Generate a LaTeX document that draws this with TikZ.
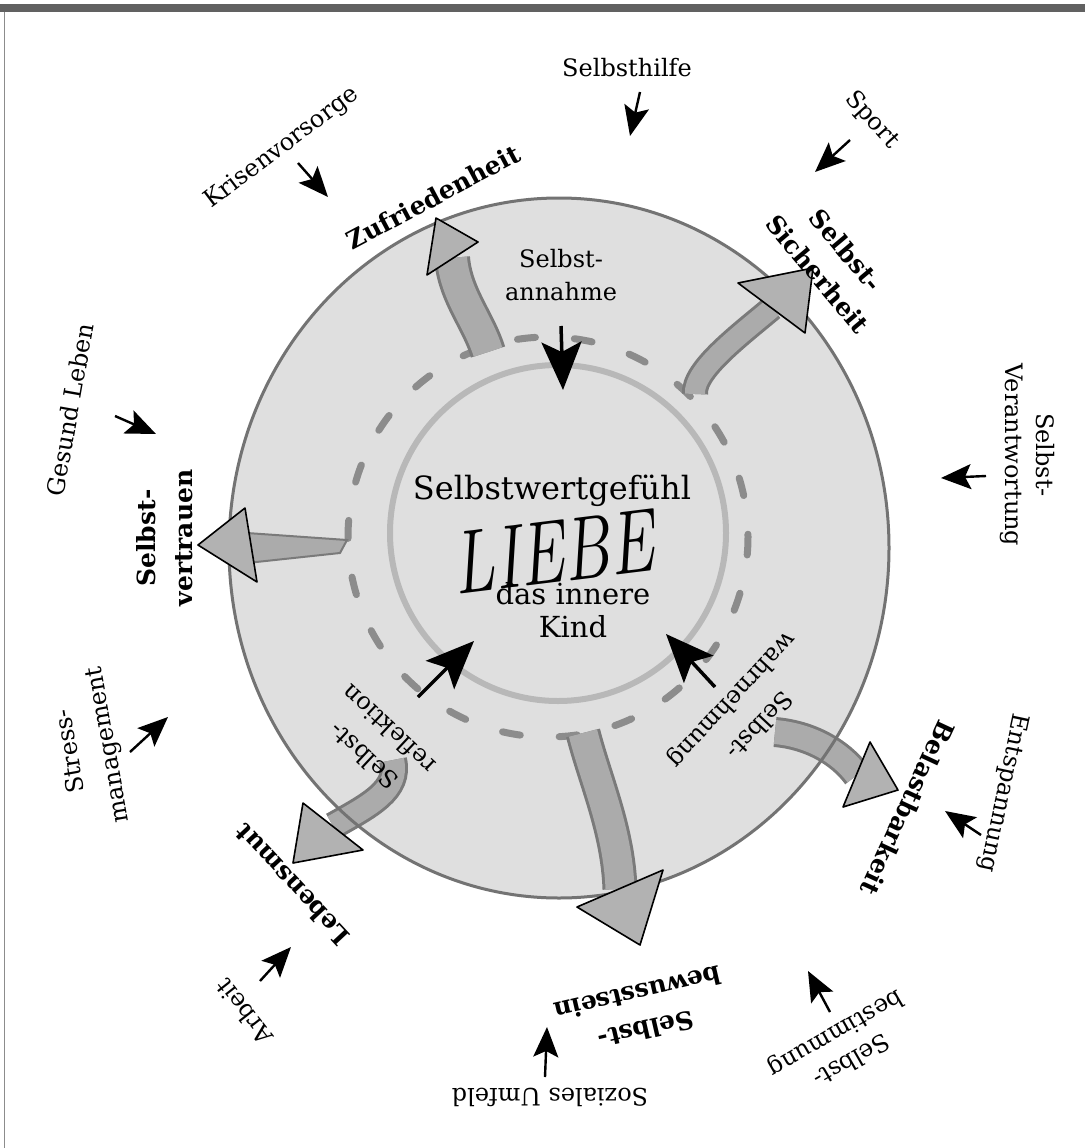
\documentclass[tikz,border=0pt]{standalone}
\usepackage{fontspec}
\usepackage{graphicx}
\setmainfont{DejaVu Serif}
\newfontfamily\lmfont{Latin Modern Roman}
\usetikzlibrary{arrows.meta}
\definecolor{circfill}{gray}{0.875}
\definecolor{circline}{gray}{0.45}
\definecolor{dashcol}{gray}{0.55}
\definecolor{innercol}{gray}{0.72}
\begin{document}
\begin{tikzpicture}[x=1pt,y=-1pt,
  lab/.style={font=\fontsize{24}{31}\selectfont, align=center, inner sep=0pt},
  blab/.style={font=\fontsize{25}{37}\selectfont\bfseries, align=center, inner sep=0pt},
  inlab/.style={font=\fontsize{24}{33}\selectfont, align=center, inner sep=0pt},
  smallarrow/.style={line width=2.4pt, -{Stealth[length=30pt,width=25pt,inset=6pt]}},
  bigarrow/.style={line width=3.5pt, -{Stealth[length=48pt,width=40pt,inset=10pt]}},
  shaftedge/.style={line width=#1, draw=black!52},
  shaftcore/.style={line width=#1, draw=black!33},
  headshape/.style={fill=black!30, draw=black, line width=1.6pt, line join=round},
]
\useasboundingbox (0,0) rectangle (1085,1148);
\fill[white] (0,0) rectangle (1085,1148);
% scan frame
\fill[black!62] (0,4) rectangle (1085,12);
\draw[black!45, line width=1pt] (4,12) -- (4,1148);

% circles
\fill[circfill] (559,548) ellipse [x radius=330, y radius=350];
\draw[dashcol, line width=7pt, line cap=round, dash pattern=on 18pt off 39pt] (548,537) circle [radius=200];
\draw[innercol, line width=6pt] (558,533) circle [radius=168];

% big gray arrows: shafts
\coordinate (zA) at (488,352); \coordinate (zB) at (452,258);
\draw[shaftedge=36pt] (zA) .. controls (478,320) and (455,295) .. (zB);
\draw[shaftcore=30pt] (zA) .. controls (478,320) and (455,295) .. (zB);
\coordinate (sA) at (695,394); \coordinate (sB) at (772,308);
\draw[shaftedge=26pt] (sA) .. controls (693,370) and (740,335) .. (sB);
\draw[shaftcore=20pt] (sA) .. controls (693,370) and (740,335) .. (sB);
\fill[black!33, draw=black!52, line width=2pt] (247,533) -- (347,540) -- (340,553) -- (247,563) -- cycle;
\coordinate (bA) at (775,732); \coordinate (bB) at (857,775);
\draw[shaftedge=30pt] (bA) .. controls (810,735) and (840,752) .. (bB);
\draw[shaftcore=24pt] (bA) .. controls (810,735) and (840,752) .. (bB);
\coordinate (wA) at (583,733); \coordinate (wB) at (620,889);
\draw[shaftedge=35pt] (wA) .. controls (595,780) and (618,830) .. (wB);
\draw[shaftcore=29pt] (wA) .. controls (595,780) and (618,830) .. (wB);
\coordinate (lA) at (393,760); \coordinate (lB) at (333,826);
\draw[shaftedge=28pt] (lA) .. controls (400,790) and (370,805) .. (lB);
\draw[shaftcore=22pt] (lA) .. controls (400,790) and (370,805) .. (lB);

% outer circle outline on top of shafts
\draw[circline, line width=3pt] (559,548) ellipse [x radius=330, y radius=350];

% arrow heads
\draw[headshape] (436,218) -- (478,242) -- (427,275) -- cycle;
\draw[headshape] (813,268) -- (805,333) -- (738,283) -- cycle;
\draw[headshape] (198,545) -- (245,508) -- (257,582) -- cycle;
\draw[headshape] (898,790) -- (843,807) -- (870,742) -- cycle;
\draw[headshape] (640,945) -- (577,907) -- (663,870) -- cycle;
\draw[headshape] (293,863) -- (303,803) -- (363,850) -- cycle;

% inner labels
\node[inlab] (annahme) at (561,275) {Selbst-\\annahme};
\node[font=\fontsize{32}{36}\selectfont, inner sep=0pt] (swg) at (552,491) {Selbstwertgefühl};
\node[font=\lmfont\itshape\fontsize{90}{90}\selectfont, inner sep=0pt, rotate=7] (liebe) at (553,552) {\scalebox{0.75}[1]{LIEBE}};
\node[font=\fontsize{29}{33}\selectfont, align=center, inner sep=0pt] (kind) at (573,610) {das innere\\Kind};
\node[inlab, font=\fontsize{24}{37}\selectfont, rotate=-133] (wahr) at (745,712) {Selbst-\\wahrnehmung};
\node[inlab, font=\fontsize{24}{37}\selectfont, rotate=137] (refl) at (376,743) {Selbst-\\reflektion};

% inner black arrows
\coordinate (ia1) at (561,326); \coordinate (ia2) at (563,390);
\draw[bigarrow] (ia1) -- (ia2);
\coordinate (ib1) at (418,697); \coordinate (ib2) at (474,641);
\draw[bigarrow] (ib1) -- (ib2);
\coordinate (ic1) at (715,687); \coordinate (ic2) at (666,634);
\draw[bigarrow] (ic1) -- (ic2);

% bold labels
\node[blab, rotate=28] (zuf) at (433,197) {Zufriedenheit};
\node[blab, rotate=-50] (sich) at (832,262) {Selbst-\\Sicherheit};
\node[blab, rotate=90] (vert) at (165,538) {Selbst-\\vertrauen};
\node[blab, rotate=133] (mut) at (292,885) {Lebensmut};
\node[blab, rotate=-167] (bew) at (642,1012) {Selbst-\\bewusstsein};
\node[blab, rotate=-115] (bel) at (908,808) {Belastbarkeit};

% outer labels
\node[lab] (hilfe) at (627,68) {Selbsthilfe};
\node[lab, rotate=-48] (sport) at (872,120) {Sport};
\node[lab, rotate=37] (kris) at (282,148) {Krisenvorsorge};
\node[lab, rotate=80] (ges) at (70,410) {Gesund Leben};
\node[lab, rotate=-90] (verant) at (1027,455) {Selbst-\\Verantwortung};
\node[lab, rotate=100, font=\fontsize{24}{38}\selectfont] (stress) at (90,748) {Stress-\\management};
\node[lab, rotate=128] (arb) at (244,1012) {Arbeit};
\node[lab, rotate=180] (soz) at (550,1097) {Soziales Umfeld};
\node[lab, rotate=-150] (best) at (843,1046) {Selbst-\\bestimmung};
\node[lab, rotate=-102] (entsp) at (1003,793) {Entspannung};

% small black arrows
\coordinate (a1t) at (640,92);  \coordinate (a1h) at (630,136);
\coordinate (a2t) at (850,140); \coordinate (a2h) at (815,172);
\coordinate (a3t) at (298,163); \coordinate (a3h) at (328,197);
\coordinate (a4t) at (115,416); \coordinate (a4h) at (156,434);
\coordinate (a5t) at (986,476); \coordinate (a5h) at (941,478);
\coordinate (a6t) at (130,752); \coordinate (a6h) at (168,717);
\coordinate (a7t) at (260,981); \coordinate (a7h) at (291,947);
\coordinate (a8t) at (545,1077);\coordinate (a8h) at (547,1027);
\coordinate (a9t) at (830,1012);\coordinate (a9h) at (808,971);
\coordinate (a10t) at (981,835);\coordinate (a10h) at (945,811);
\foreach \i in {1,...,10} \draw[smallarrow] (a\i t) -- (a\i h);
\end{tikzpicture}
\end{document}
